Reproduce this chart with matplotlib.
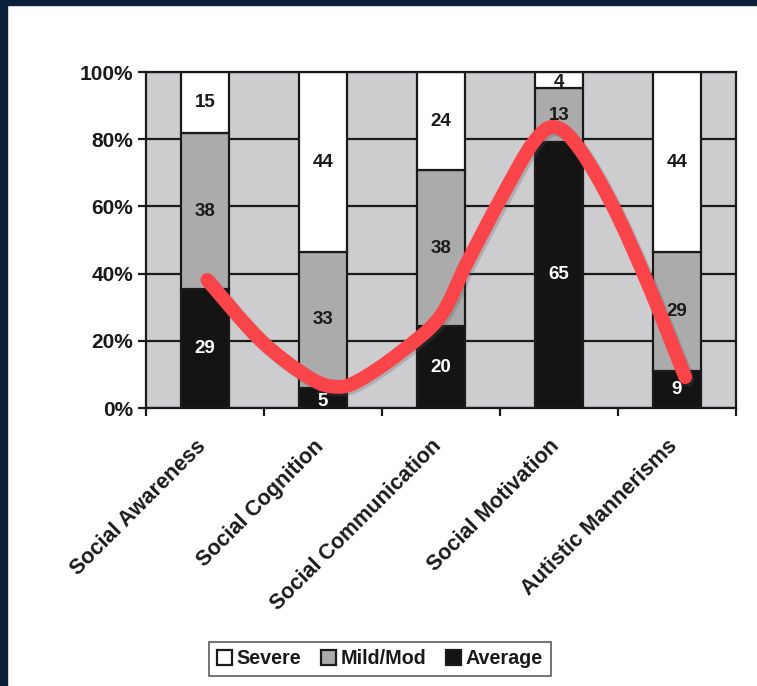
import numpy as np
import matplotlib
matplotlib.use("Agg")
import matplotlib.pyplot as plt
import matplotlib.transforms as mtransforms
from matplotlib.path import Path
from matplotlib.patches import PathPatch, Patch, Rectangle

plt.rcParams['font.family'] = ['Liberation Sans', 'DejaVu Sans']
plt.rcParams['font.weight'] = 'bold'

categories = ["Social Awareness", "Social Cognition", "Social Communication",
              "Social Motivation", "Autistic Mannerisms"]
average = [29, 5, 20, 65, 9]
mild_mod = [38, 33, 38, 13, 29]
severe = [15, 44, 24, 4, 44]
y_ticks = [0, 20, 40, 60, 80, 100]
y_tick_labels = ["0%", "20%", "40%", "60%", "80%", "100%"]

# hand-drawn red curve (category index, percent)
curve_x = [0.02, 0.47, 0.89, 1.12, 1.31, 1.65, 1.99, 2.22, 2.50, 2.78, 2.97, 3.18, 3.46, 3.75, 4.07]
curve_y = [38.1, 20.2, 8.9, 6.3, 8.3, 16.4, 27.1, 43.2, 61.9, 78.9, 83.6, 76.8, 59.8, 37.2, 9.2]

fig = plt.figure(figsize=(7.57, 6.86), dpi=100)
fig.patch.set_facecolor('white')

# navy frame on top and left
navy = '#0b1f3b'
fig.add_artist(Rectangle((0, 1 - 5/686), 1, 5/686, transform=fig.transFigure, color=navy, zorder=0))
fig.add_artist(Rectangle((0, 0), 7/757, 1, transform=fig.transFigure, color=navy, zorder=0))

ax = fig.add_axes([146/757, (686-408)/686, (736-146)/757, (408-72)/686])
ax.set_facecolor('#cdcdd0')

avg = np.array(average, float)
mid = np.array(mild_mod, float)
sev = np.array(severe, float)
tot = avg + mid + sev
pa = avg / tot * 100
pm = mid / tot * 100
ps = sev / tot * 100
x = np.arange(len(categories))
w = 0.41
ec = '#1a1a1a'
lw = 1.6
ax.bar(x, pa, w, color='#141414', edgecolor=ec, linewidth=lw, zorder=2, label='Average')
ax.bar(x, pm, w, bottom=pa, color='#ababab', edgecolor=ec, linewidth=lw, zorder=2, label='Mild/Mod')
ax.bar(x, ps, w, bottom=pa + pm, color='white', edgecolor=ec, linewidth=lw, zorder=2, label='Severe')

fs_val = 13.5
for i in range(len(categories)):
    ax.text(x[i], pa[i] / 2 - (1.2 if pa[i] < 10 else 0), str(average[i]), ha='center', va='center',
            color='white', fontsize=fs_val, fontweight='bold', zorder=3)
    ax.text(x[i], pa[i] + pm[i] / 2, str(mild_mod[i]), ha='center', va='center',
            color='#1a1a1a', fontsize=fs_val, fontweight='bold', zorder=3)
    ax.text(x[i], pa[i] + pm[i] + ps[i] / 2 - (0.6 if ps[i] < 10 else 0), str(severe[i]), ha='center', va='center',
            color='#1a1a1a', fontsize=fs_val, fontweight='bold', zorder=3)

ax.set_xlim(-0.5, len(categories) - 0.5)
ax.set_ylim(0, 100)
ax.set_yticks(y_ticks)
ax.set_yticklabels(y_tick_labels, fontsize=15, fontweight='bold', color='#1a1a1a')
ax.yaxis.grid(True, color='#1a1a1a', linewidth=1.6, zorder=1)
ax.set_axisbelow(True)

ax.set_xticks(x)
ax.set_xticklabels(categories, rotation=45, ha='right', rotation_mode='anchor',
                   fontsize=15.5, fontweight='bold', color='#1a1a1a')
ax.tick_params(axis='x', which='major', length=0, pad=20)
for lab in ax.get_xticklabels():
    lab.set_transform(lab.get_transform() + mtransforms.ScaledTranslation(-10/100, 0, fig.dpi_scale_trans))
ax.set_xticks(np.arange(-0.5, len(categories), 1.0), minor=True)
ax.tick_params(axis='x', which='minor', length=6, width=1.6, color='#1a1a1a')
ax.tick_params(axis='y', length=6, width=1.6, color='#1a1a1a', pad=3)
for s in ax.spines.values():
    s.set_color('#1a1a1a')
    s.set_linewidth(1.6)
    s.set_zorder(4)

# smooth red curve through read points (Catmull-Rom -> cubic Bezier)
P = np.column_stack([curve_x, curve_y])
verts = [tuple(P[0])]
codes = [Path.MOVETO]
n = len(P)
for i in range(n - 1):
    p0 = P[i - 1] if i > 0 else P[i]
    p1 = P[i]
    p2 = P[i + 1]
    p3 = P[i + 2] if i + 2 < n else P[i + 1]
    c1 = p1 + (p2 - p0) / 6.0
    c2 = p2 - (p3 - p1) / 6.0
    verts += [tuple(c1), tuple(c2), tuple(p2)]
    codes += [Path.CURVE4] * 3
path = Path(verts, codes)
shadow = PathPatch(path, facecolor='none', edgecolor='#555555', alpha=0.25, linewidth=10.5,
                   capstyle='round', joinstyle='round', zorder=4.5, clip_on=False)
shadow.set_transform(ax.transData + mtransforms.ScaledTranslation(1.5/72, -1.5/72, fig.dpi_scale_trans))
ax.add_patch(shadow)
ax.add_patch(PathPatch(path, facecolor='none', edgecolor='#f94449', linewidth=10,
                       capstyle='round', joinstyle='round', zorder=5, clip_on=False))

handles = [Patch(facecolor='white', edgecolor='#1a1a1a', linewidth=1.6, label='Severe'),
           Patch(facecolor='#ababab', edgecolor='#1a1a1a', linewidth=1.6, label='Mild/Mod'),
           Patch(facecolor='#141414', edgecolor='#1a1a1a', linewidth=1.6, label='Average')]
leg = fig.legend(handles=handles, loc='center', bbox_to_anchor=(380/757, 1 - 659/686), ncol=3,
                 frameon=True, fancybox=False, edgecolor='#444444',
                 handlelength=0.75, handleheight=0.75, handletextpad=0.25, columnspacing=1.0,
                 borderpad=0.4, prop={'weight': 'bold', 'size': 14.2})
leg.get_frame().set_linewidth(1.3)
for t in leg.get_texts():
    t.set_color('#1a1a1a')

fig.savefig('out.png', dpi=100, facecolor='white')
